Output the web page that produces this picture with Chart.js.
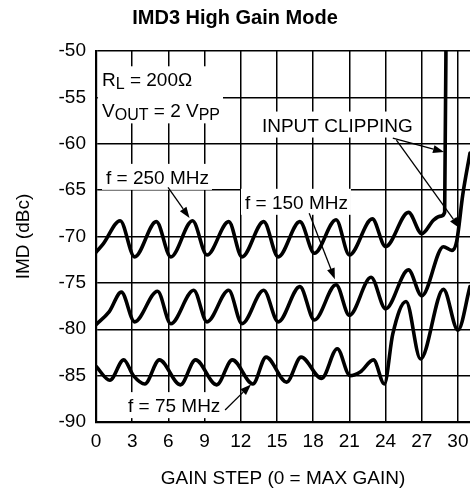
<!DOCTYPE html>
<html>
<head>
<meta charset="utf-8">
<title>IMD3 High Gain Mode</title>
<script src="https://cdn.jsdelivr.net/npm/chart.js@4.4.1/dist/chart.umd.min.js"></script>
<style>
  html, body { margin: 0; padding: 0; background: #fff; }
  #wrap { width: 470px; height: 494px; }
</style>
</head>
<body>
<div id="wrap"><canvas id="chart"></canvas></div>
<script>
// IMD3 vs gain step
const xTicks = [0, 3, 6, 9, 12, 15, 18, 21, 24, 27, 30];
const yTicks = [-90, -85, -80, -75, -70, -65, -60, -55, -50];

// f = 250 MHz (clips right after step 29)
const gain250 = [0, 0.6, 2.0, 3.2, 5.0, 6.2, 8.0, 9.2, 11.0, 12.1, 13.9, 15.1, 16.9, 18.1, 19.9, 21.0, 22.9, 24.0, 25.9, 27.0, 28.0, 28.6, 28.9, 29.05];
const imd250  = [-71.7, -70.8, -68.3, -72.2, -68.4, -72.2, -68.3, -72.0, -68.4, -72.2, -68.4, -72.2, -68.4, -71.8, -68.2, -72.0, -68.1, -71.1, -67.4, -69.7, -68.2, -67.8, -67.4, -40];

// f = 150 MHz
const gain150 = [0, 1.1, 2.1, 3.2, 5.1, 6.2, 8.1, 9.2, 11.0, 12.1, 13.9, 15.1, 16.9, 18.1, 19.9, 21.0, 22.8, 24.0, 25.9, 27.0, 28.8, 29.5, 29.9, 30.4, 31];
const imd150  = [-79.5, -78.1, -76.0, -79.2, -75.9, -79.4, -75.8, -79.2, -75.8, -79.4, -75.8, -79.2, -75.4, -79.0, -75.2, -78.5, -74.4, -77.8, -73.6, -76.4, -71.1, -71.5, -70.5, -65.5, -61];

// f = 75 MHz
const gain75 = [0, 1.15, 2.3, 3.1, 4.05, 5.25, 7.0, 8.25, 10.0, 11.3, 13.0, 14.1, 15.8, 17.0, 18.7, 20.0, 21.05, 21.9, 23.0, 23.9, 24.6, 25.7, 26.9, 28.8, 30.0, 31];
const imd75  = [-84.0, -85.5, -83.3, -85.0, -85.9, -83.3, -86.0, -83.3, -86.0, -83.3, -85.9, -83.0, -85.7, -83.0, -85.3, -82.1, -85.0, -84.6, -83.3, -85.9, -80.5, -77.0, -83.2, -75.7, -80.1, -75.4];

// text notes: parts are [text, isSubscript], position in data units (left edge, middle)
const notes = [
  { parts: [['R'], ['L', 1], [' = 200Ω']], x: 0.5, y: -53.05, box: 'cond' },
  { parts: [['V'], ['OUT', 1], [' = 2 V'], ['PP', 1]], x: 0.5, y: -56.4, box: 'cond' },
  { parts: [['f = 250 MHz']], x: 0.83, y: -63.57, box: 'f250' },
  { parts: [['f = 150 MHz']], x: 12.35, y: -66.26, box: 'f150' },
  { parts: [['f = 75 MHz']], x: 2.65, y: -88.18, box: 'f75' },
  { parts: [['INPUT CLIPPING']], x: 13.75, y: -57.93, box: 'clip' }
];
const arrows = [
  { from: [5.97, -64.7], to: [7.75, -68.0] },
  { from: [17.67, -67.5], to: [19.8, -74.6] },
  { from: [10.7, -88.7], to: [12.85, -85.95] },
  { from: [24.6, -59.4], to: [28.85, -60.9] },
  { from: [24.9, -59.6], to: [30.15, -69.1] }
];

const FONT = '"Liberation Sans", Arial, Helvetica, sans-serif';

function toPoints(xs, ys) {
  return xs.map((g, i) => ({ x: g, y: ys[i] }));
}

function layoutNote(ctx, chart, n) {
  const x0 = chart.scales.x.getPixelForValue(n.x);
  const cy = chart.scales.y.getPixelForValue(n.y);
  let x = x0;
  const pieces = n.parts.map(p => {
    const sub = p[1] === 1;
    ctx.font = (sub ? 16 : 19) + 'px ' + FONT;
    const w = ctx.measureText(p[0]).width;
    const piece = { t: p[0], sub: sub, x: x };
    x += w;
    return piece;
  });
  return { pieces: pieces, left: x0, right: x, cy: cy };
}

const notePlugin = {
  id: 'notes',
  beforeDatasetsDraw(chart) {
    // white boxes behind the labels hide the grid
    const ctx = chart.ctx;
    const groups = {};
    notes.forEach(n => {
      const l = layoutNote(ctx, chart, n);
      const g = groups[n.box] || (groups[n.box] = { l: 1e9, r: -1e9, t: 1e9, b: -1e9 });
      g.l = Math.min(g.l, l.left - 4);
      g.r = Math.max(g.r, l.right + 3);
      g.t = Math.min(g.t, l.cy - 13);
      g.b = Math.max(g.b, l.cy + 13);
    });
    ctx.save();
    ctx.fillStyle = '#fff';
    Object.values(groups).forEach(g => ctx.fillRect(g.l, g.t, g.r - g.l, g.b - g.t));
    ctx.restore();
  },
  afterDatasetsDraw(chart) {
    const ctx = chart.ctx;
    const xs = chart.scales.x, ys = chart.scales.y;
    ctx.save();
    ctx.strokeStyle = '#000';
    ctx.fillStyle = '#000';
    ctx.lineWidth = 1.3;
    arrows.forEach(a => {
      const x1 = xs.getPixelForValue(a.from[0]), y1 = ys.getPixelForValue(a.from[1]);
      const x2 = xs.getPixelForValue(a.to[0]), y2 = ys.getPixelForValue(a.to[1]);
      const ang = Math.atan2(y2 - y1, x2 - x1);
      const len = 11, half = 4;
      const bx = x2 - len * Math.cos(ang), by = y2 - len * Math.sin(ang);
      ctx.beginPath();
      ctx.moveTo(x1, y1);
      ctx.lineTo(bx, by);
      ctx.stroke();
      ctx.beginPath();
      ctx.moveTo(x2, y2);
      ctx.lineTo(bx + half * Math.sin(ang), by - half * Math.cos(ang));
      ctx.lineTo(bx - half * Math.sin(ang), by + half * Math.cos(ang));
      ctx.closePath();
      ctx.fill();
    });
    ctx.textBaseline = 'alphabetic';
    ctx.textAlign = 'left';
    notes.forEach(n => {
      const l = layoutNote(ctx, chart, n);
      l.pieces.forEach(p => {
        ctx.font = (p.sub ? 16 : 19) + 'px ' + FONT;
        ctx.fillText(p.t, p.x, l.cy + 7 + (p.sub ? 3 : 0));
      });
    });
    ctx.restore();
  }
};

function series(xs, ys) {
  return {
    data: toPoints(xs, ys),
    borderColor: '#000',
    borderWidth: 3.6,
    pointRadius: 0,
    cubicInterpolationMode: 'monotone',
    borderJoinStyle: 'round',
    borderCapStyle: 'round',
    fill: false
  };
}

Chart.defaults.font.family = FONT;
Chart.defaults.color = '#000';

new Chart(document.getElementById('chart'), {
  type: 'line',
  data: {
    datasets: [series(gain250, imd250), series(gain150, imd150), series(gain75, imd75)]
  },
  options: {
    responsive: true,
    maintainAspectRatio: false,
    devicePixelRatio: 1,
    animation: false,
    layout: { padding: 0 },
    plugins: {
      legend: { display: false },
      tooltip: { enabled: false },
      title: {
        display: true,
        text: 'IMD3 High Gain Mode',
        color: '#000',
        font: { size: 20, weight: 'bold' },
        padding: { top: 6, bottom: 21 }
      }
    },
    scales: {
      x: {
        type: 'linear',
        min: 0,
        max: 31,
        afterBuildTicks: s => { s.ticks = xTicks.map(v => ({ value: v })); },
        afterFit: s => { s.height = 72; s.paddingLeft = 0; s.paddingRight = 0; },
        grid: { color: '#000', lineWidth: 1.5, drawTicks: false },
        border: { display: true, color: '#000', width: 2.2 },
        ticks: { color: '#000', font: { size: 19 }, padding: 8, maxRotation: 0 },
        title: { display: true, text: 'GAIN STEP (0 = MAX GAIN)', color: '#000', font: { size: 19 }, padding: { top: 0, bottom: 4 } }
      },
      y: {
        min: -90,
        max: -50,
        afterBuildTicks: s => { s.ticks = yTicks.map(v => ({ value: v })); },
        afterFit: s => { s.width = 96; },
        grid: { color: '#000', lineWidth: 1.5, drawTicks: false },
        border: { display: true, color: '#000', width: 2.2 },
        ticks: { color: '#000', font: { size: 19 }, padding: 10 },
        title: { display: true, text: 'IMD (dBc)', color: '#000', font: { size: 19 }, padding: { top: 12, bottom: 0 } }
      }
    }
  },
  plugins: [notePlugin]
});
</script>
</body>
</html>
